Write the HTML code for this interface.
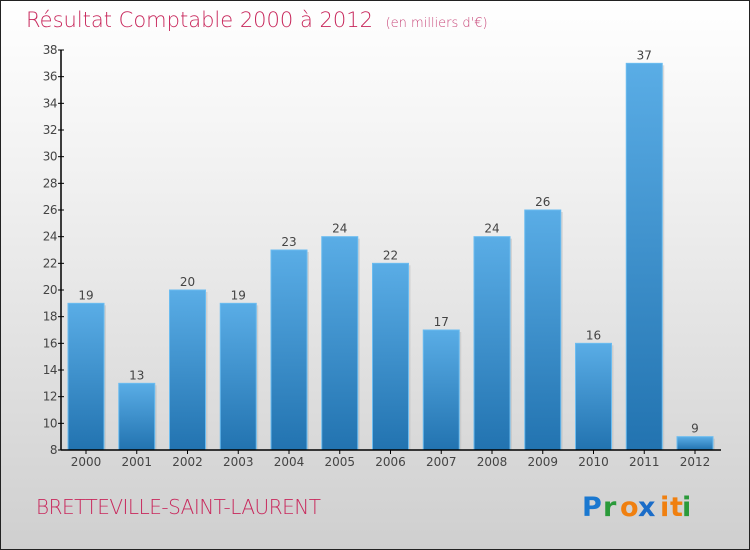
<!DOCTYPE html>
<html><head><meta charset="utf-8"><style>
body{margin:0;width:750px;height:550px;overflow:hidden;font-family:"DejaVu Sans","Liberation Sans",sans-serif}
#wrap{position:absolute;left:0;top:0;width:748px;height:548px;border:1px solid #222;background:linear-gradient(#ffffff,#f2f2f2 30%,#cfcfcf)}
</style></head><body>
<div id="wrap">
<svg id="chart" width="750" height="550" style="position:absolute;left:-1px;top:-1px">
<defs><linearGradient id="bg" x1="0" y1="0" x2="0" y2="1"><stop offset="0" stop-color="#5aade6"/><stop offset="1" stop-color="#2273b0"/></linearGradient></defs>
<text x="26" y="27" font-size="21" fill="#c8285c" font-family="DejaVu Sans,sans-serif" font-weight="200">Résultat Comptable 2000 à 2012 <tspan font-size="13" dx="6" fill="#c8487a">(en milliers d'€)</tspan></text>
<text x="36" y="514" font-size="20" fill="#c8285c" font-weight="200" letter-spacing="-0.5">BRETTEVILLE-SAINT-LAURENT</text>
<g font-size="27" font-family="DejaVu Sans,sans-serif" font-weight="bold">
<text x="582" y="516" fill="#1a78d0">P</text><text x="603" y="516" fill="#2a9a3a">r</text><text x="620" y="516" fill="#f08010">o</text><text x="638" y="516" fill="#1a6cc8">x</text><text x="660" y="516" fill="#f08010">i</text><text x="670" y="516" fill="#f08010">t</text><text x="682" y="516" fill="#2a9a3a">i</text>
</g>
<g id="plot"></g>
</svg></div>
<script>
const categories=["2000","2001","2002","2003","2004","2005","2006","2007","2008","2009","2010","2011","2012"];
const values=[19,13,20,19,23,24,22,17,24,26,16,37,9];
const yTicks=[8,10,12,14,16,18,20,22,24,26,28,30,32,34,36,38];
const ymin=8,ymax=38,yTop=50,yBot=450,x0=61;
const y=v=>yBot-(v-ymin)/(ymax-ymin)*(yBot-yTop);
const xc=i=>86+i*50.75;
const NS="http://www.w3.org/2000/svg",g=document.getElementById('plot');
function mk(t,a,txt){const e=document.createElementNS(NS,t);for(const k in a)e.setAttribute(k,a[k]);if(txt!=null)e.textContent=txt;g.appendChild(e);return e;}
values.forEach((v,i)=>{
 const r=mk('rect',{x:xc(i)-18+2,y:y(v)+2,width:36,height:yBot-y(v)-2,fill:'#bbb',opacity:0.5});
 
 
 const b=mk('rect',{x:xc(i)-18,y:y(v),width:36,height:yBot-y(v),fill:'url(#bg)',stroke:'#6bbcf0','stroke-width':1});
 
 
 const t=mk('text',{x:xc(i),y:y(v)-4,'text-anchor':'middle','font-size':12,fill:'#444'},v);
 
 
 const c=mk('text',{x:xc(i),y:466,'text-anchor':'middle','font-size':12,fill:'#444'},categories[i]);
 
 
 const tk=mk('line',{x1:xc(i),x2:xc(i),y1:450,y2:454,stroke:'#000'});
 
 
});
yTicks.forEach(v=>{
 const l=mk('line',{x1:58,x2:64,y1:y(v),y2:y(v),stroke:'#000'});
 
 
 const t=mk('text',{x:57,y:y(v)+4,'text-anchor':'end','font-size':12,fill:'#444','letter-spacing':'-0.5'},v);
 
 
});
const ya=mk('line',{x1:x0,x2:x0,y1:yTop,y2:yBot,stroke:'#000','stroke-width':1.5});


const xa=mk('line',{x1:x0,x2:721,y1:yBot,y2:yBot,stroke:'#000','stroke-width':1.5});


</script>
</body></html>
